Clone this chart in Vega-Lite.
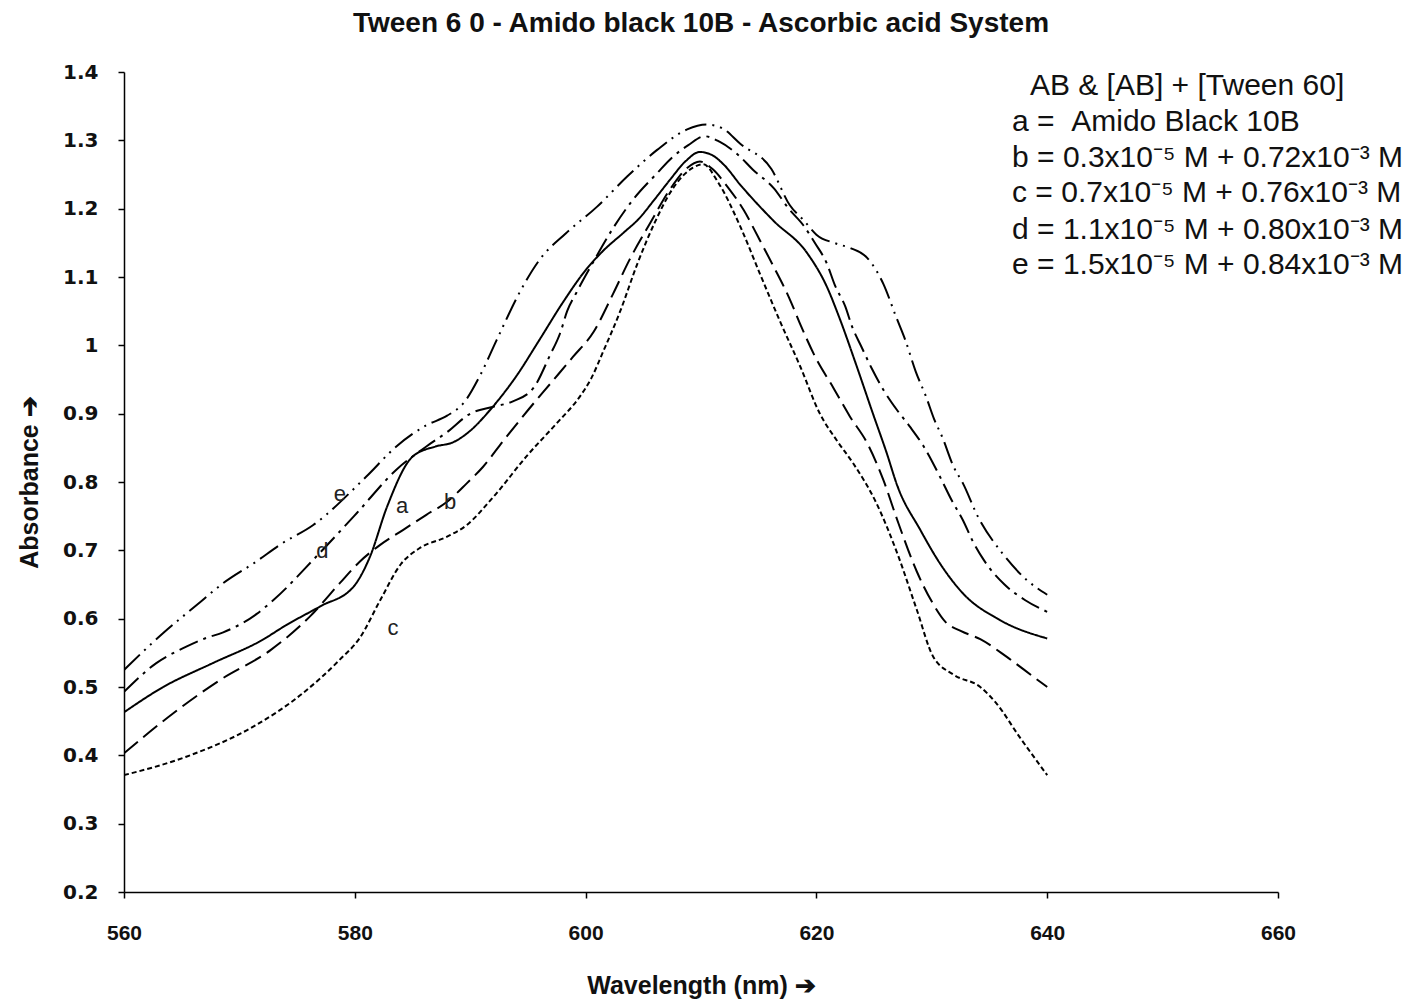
{
  "$schema": "https://vega.github.io/schema/vega-lite/v6.json",
  "autosize": "none",
  "width": 1154,
  "height": 820,
  "padding": {"left": 124, "top": 72, "right": 136, "bottom": 113},
  "background": "white",
  "title": {
    "text": "Tween 6 0 - Amido black 10B - Ascorbic acid System",
    "font": "Liberation Sans",
    "fontSize": 28,
    "fontWeight": "bold",
    "color": "#111",
    "anchor": "middle",
    "offset": 24
  },
  "config": {
    "view": {"stroke": null},
    "axis": {"grid": false, "domainColor": "#000", "tickColor": "#000", "domainWidth": 1.5, "tickWidth": 1.5, "labelColor": "#111", "titleColor": "#111"}
  },
  "datasets": {
    "curves": [
      {"s":"a","x":560,"y":0.463},{"s":"a","x":563.4,"y":0.5},{"s":"a","x":567.7,"y":0.535},{"s":"a","x":572,"y":0.569},{"s":"a","x":574,"y":0.59},{"s":"a","x":577,"y":0.618},{"s":"a","x":579.9,"y":0.647},{"s":"a","x":581.3,"y":0.69},{"s":"a","x":582.8,"y":0.764},{"s":"a","x":585,"y":0.837},{"s":"a","x":587,"y":0.852},{"s":"a","x":588.5,"y":0.858},{"s":"a","x":590,"y":0.875},{"s":"a","x":591.7,"y":0.905},{"s":"a","x":594,"y":0.955},{"s":"a","x":596,"y":1.008},{"s":"a","x":598,"y":1.062},{"s":"a","x":600,"y":1.11},{"s":"a","x":601.5,"y":1.138},{"s":"a","x":603.3,"y":1.165},{"s":"a","x":604.6,"y":1.185},{"s":"a","x":606,"y":1.214},{"s":"a","x":607.3,"y":1.242},{"s":"a","x":608.7,"y":1.27},{"s":"a","x":609.9,"y":1.283},{"s":"a","x":611,"y":1.278},{"s":"a","x":612,"y":1.264},{"s":"a","x":613.4,"y":1.235},{"s":"a","x":615.1,"y":1.203},{"s":"a","x":616.3,"y":1.182},{"s":"a","x":619.2,"y":1.135},{"s":"a","x":620.9,"y":1.086},{"s":"a","x":622,"y":1.04},{"s":"a","x":623.5,"y":0.969},{"s":"a","x":624.9,"y":0.9},{"s":"a","x":626.1,"y":0.842},{"s":"a","x":627,"y":0.795},{"s":"a","x":629,"y":0.73},{"s":"a","x":630.7,"y":0.681},{"s":"a","x":632.7,"y":0.637},{"s":"a","x":635.9,"y":0.598},{"s":"a","x":640,"y":0.571},
      {"s":"b","x":560,"y":0.403},{"s":"b","x":564.3,"y":0.462},{"s":"b","x":568.3,"y":0.51},{"s":"b","x":572.7,"y":0.554},{"s":"b","x":576.1,"y":0.603},{"s":"b","x":578.7,"y":0.652},{"s":"b","x":580.4,"y":0.683},{"s":"b","x":582.2,"y":0.708},{"s":"b","x":584.2,"y":0.73},{"s":"b","x":586.2,"y":0.752},{"s":"b","x":588,"y":0.771},{"s":"b","x":589.7,"y":0.798},{"s":"b","x":591.1,"y":0.822},{"s":"b","x":592.9,"y":0.861},{"s":"b","x":595,"y":0.905},{"s":"b","x":597,"y":0.945},{"s":"b","x":598.9,"y":0.983},{"s":"b","x":600.7,"y":1.02},{"s":"b","x":602.4,"y":1.076},{"s":"b","x":603.8,"y":1.125},{"s":"b","x":605.6,"y":1.179},{"s":"b","x":607.3,"y":1.228},{"s":"b","x":608.7,"y":1.258},{"s":"b","x":609.9,"y":1.269},{"s":"b","x":611,"y":1.258},{"s":"b","x":612.3,"y":1.232},{"s":"b","x":613.7,"y":1.198},{"s":"b","x":615,"y":1.157},{"s":"b","x":616.3,"y":1.115},{"s":"b","x":617.6,"y":1.071},{"s":"b","x":618.7,"y":1.027},{"s":"b","x":619.9,"y":0.983},{"s":"b","x":621.5,"y":0.937},{"s":"b","x":622.9,"y":0.896},{"s":"b","x":624.4,"y":0.857},{"s":"b","x":625.8,"y":0.803},{"s":"b","x":627.1,"y":0.74},{"s":"b","x":628.7,"y":0.669},{"s":"b","x":630,"y":0.625},{"s":"b","x":631.2,"y":0.595},{"s":"b","x":632.5,"y":0.582},{"s":"b","x":634.2,"y":0.57},{"s":"b","x":636.5,"y":0.544},{"s":"b","x":638.8,"y":0.515},{"s":"b","x":640,"y":0.5},
      {"s":"c","x":560,"y":0.371},{"s":"c","x":565.4,"y":0.398},{"s":"c","x":571.2,"y":0.442},{"s":"c","x":575.5,"y":0.491},{"s":"c","x":578.7,"y":0.54},{"s":"c","x":580.4,"y":0.571},{"s":"c","x":582.2,"y":0.627},{"s":"c","x":584,"y":0.68},{"s":"c","x":585.6,"y":0.703},{"s":"c","x":588,"y":0.72},{"s":"c","x":589.7,"y":0.737},{"s":"c","x":592,"y":0.778},{"s":"c","x":595,"y":0.84},{"s":"c","x":597.5,"y":0.886},{"s":"c","x":599.5,"y":0.925},{"s":"c","x":600.5,"y":0.952},{"s":"c","x":601.5,"y":0.99},{"s":"c","x":603,"y":1.05},{"s":"c","x":604.5,"y":1.12},{"s":"c","x":606,"y":1.18},{"s":"c","x":607.5,"y":1.228},{"s":"c","x":609.3,"y":1.26},{"s":"c","x":610.2,"y":1.265},{"s":"c","x":611.5,"y":1.238},{"s":"c","x":613.4,"y":1.174},{"s":"c","x":615.1,"y":1.105},{"s":"c","x":616.8,"y":1.037},{"s":"c","x":618.6,"y":0.969},{"s":"c","x":620.3,"y":0.9},{"s":"c","x":621.8,"y":0.86},{"s":"c","x":623.2,"y":0.827},{"s":"c","x":625.2,"y":0.769},{"s":"c","x":627,"y":0.696},{"s":"c","x":628.7,"y":0.613},{"s":"c","x":630.1,"y":0.545},{"s":"c","x":631.9,"y":0.518},{"s":"c","x":634.2,"y":0.5},{"s":"c","x":635.6,"y":0.476},{"s":"c","x":637.6,"y":0.427},{"s":"c","x":640,"y":0.371},
      {"s":"d","x":560,"y":0.493},{"s":"d","x":562.8,"y":0.535},{"s":"d","x":565.4,"y":0.559},{"s":"d","x":567,"y":0.571},{"s":"d","x":568.6,"y":0.58},{"s":"d","x":571.5,"y":0.607},{"s":"d","x":573,"y":0.628},{"s":"d","x":576.5,"y":0.688},{"s":"d","x":580.2,"y":0.755},{"s":"d","x":583.6,"y":0.818},{"s":"d","x":586.2,"y":0.852},{"s":"d","x":588,"y":0.873},{"s":"d","x":590,"y":0.9},{"s":"d","x":592,"y":0.91},{"s":"d","x":593.7,"y":0.918},{"s":"d","x":595.5,"y":0.938},{"s":"d","x":596.9,"y":0.985},{"s":"d","x":597.8,"y":1.018},{"s":"d","x":598.4,"y":1.05},{"s":"d","x":599.2,"y":1.077},{"s":"d","x":600.6,"y":1.12},{"s":"d","x":602.4,"y":1.172},{"s":"d","x":604.1,"y":1.213},{"s":"d","x":606.2,"y":1.252},{"s":"d","x":607.5,"y":1.275},{"s":"d","x":608.9,"y":1.293},{"s":"d","x":610.3,"y":1.306},{"s":"d","x":611.6,"y":1.298},{"s":"d","x":613.2,"y":1.279},{"s":"d","x":614.5,"y":1.257},{"s":"d","x":616.3,"y":1.23},{"s":"d","x":617.6,"y":1.2},{"s":"d","x":618.9,"y":1.175},{"s":"d","x":619.9,"y":1.149},{"s":"d","x":620.9,"y":1.12},{"s":"d","x":621.6,"y":1.088},{"s":"d","x":622.5,"y":1.057},{"s":"d","x":623.1,"y":1.027},{"s":"d","x":623.9,"y":0.998},{"s":"d","x":624.8,"y":0.966},{"s":"d","x":625.8,"y":0.935},{"s":"d","x":627,"y":0.905},{"s":"d","x":628.1,"y":0.881},{"s":"d","x":629.3,"y":0.852},{"s":"d","x":630.7,"y":0.808},{"s":"d","x":631.7,"y":0.774},{"s":"d","x":632.7,"y":0.744},{"s":"d","x":633.5,"y":0.715},{"s":"d","x":634.5,"y":0.686},{"s":"d","x":636.3,"y":0.65},{"s":"d","x":638.1,"y":0.627},{"s":"d","x":640,"y":0.61},
      {"s":"e","x":560,"y":0.525},{"s":"e","x":563.4,"y":0.579},{"s":"e","x":566.3,"y":0.62},{"s":"e","x":568.6,"y":0.652},{"s":"e","x":571.5,"y":0.684},{"s":"e","x":573.5,"y":0.708},{"s":"e","x":576.4,"y":0.737},{"s":"e","x":581,"y":0.808},{"s":"e","x":583.6,"y":0.852},{"s":"e","x":586.2,"y":0.883},{"s":"e","x":588,"y":0.897},{"s":"e","x":589.5,"y":0.917},{"s":"e","x":590.8,"y":0.954},{"s":"e","x":592.3,"y":1.008},{"s":"e","x":594.3,"y":1.078},{"s":"e","x":596,"y":1.125},{"s":"e","x":598.3,"y":1.164},{"s":"e","x":601,"y":1.203},{"s":"e","x":603.6,"y":1.247},{"s":"e","x":606.2,"y":1.286},{"s":"e","x":608.8,"y":1.316},{"s":"e","x":610.5,"y":1.323},{"s":"e","x":611.8,"y":1.318},{"s":"e","x":613.4,"y":1.295},{"s":"e","x":616.1,"y":1.258},{"s":"e","x":617.7,"y":1.205},{"s":"e","x":618.9,"y":1.183},{"s":"e","x":620,"y":1.162},{"s":"e","x":621.7,"y":1.149},{"s":"e","x":623,"y":1.142},{"s":"e","x":624.4,"y":1.128},{"s":"e","x":625.8,"y":1.09},{"s":"e","x":626.9,"y":1.042},{"s":"e","x":627.7,"y":1.008},{"s":"e","x":628.6,"y":0.962},{"s":"e","x":629.5,"y":0.925},{"s":"e","x":630.2,"y":0.892},{"s":"e","x":630.9,"y":0.866},{"s":"e","x":631.9,"y":0.822},{"s":"e","x":632.7,"y":0.798},{"s":"e","x":634,"y":0.749},{"s":"e","x":636.1,"y":0.696},{"s":"e","x":638.2,"y":0.657},{"s":"e","x":640,"y":0.635}
    ],
    "curveLabels": [
      {"t":"e","x":578.7,"y":0.782},
      {"t":"d","x":577.2,"y":0.699},
      {"t":"a","x":584.1,"y":0.765},
      {"t":"b","x":588.25,"y":0.771},
      {"t":"c","x":583.3,"y":0.586}
    ],
    "legendLines": [
      {"t":"AB & [AB] + [Tween 60]","x":638.5,"y":1.38},
      {"t":"a = \u00a0Amido Black 10B","x":636.95,"y":1.327},
      {"t":"b = 0.3x10⁻⁵ M + 0.72x10⁻³ M","x":636.95,"y":1.274},
      {"t":"c = 0.7x10⁻⁵ M + 0.76x10⁻³ M","x":636.95,"y":1.223},
      {"t":"d = 1.1x10⁻⁵ M + 0.80x10⁻³ M","x":636.95,"y":1.169},
      {"t":"e = 1.5x10⁻⁵ M + 0.84x10⁻³ M","x":636.95,"y":1.118}
    ]
  },
  "layer": [
    {
      "data": {"name": "curves"},
      "mark": {"type": "line", "interpolate": "monotone", "strokeWidth": 2, "color": "#000", "clip": true},
      "encoding": {
        "x": {
          "field": "x", "type": "quantitative",
          "scale": {"domain": [560, 660], "nice": false, "zero": false},
          "axis": {
            "values": [560, 580, 600, 620, 640, 660],
            "title": "Wavelength (nm) ➔",
            "titleFont": "Liberation Sans", "titleFontSize": 25, "titleFontWeight": "bold", "titlePadding": 30,
            "labelFont": "Liberation Sans", "labelFontSize": 21, "labelFontWeight": "bold", "labelPadding": 24,
            "tickSize": 6, "labelFlush": false
          }
        },
        "y": {
          "field": "y", "type": "quantitative",
          "scale": {"domain": [0.2, 1.4], "nice": false, "zero": false},
          "axis": {
            "values": [0.2, 0.3, 0.4, 0.5, 0.6, 0.7, 0.8, 0.9, 1.0, 1.1, 1.2, 1.3, 1.4],
            "format": ".2~f",
            "title": "Absorbance ➔",
            "titleFont": "Liberation Sans", "titleFontSize": 25, "titleFontWeight": "bold", "titlePadding": 20,
            "labelFont": "DejaVu Sans", "labelFontSize": 20, "labelFontWeight": "bold", "labelPadding": 20,
            "tickSize": 6, "labelFlush": false
          }
        },
        "detail": {"field": "s"},
        "strokeDash": {
          "field": "s", "type": "nominal", "legend": null,
          "scale": {"domain": ["a", "b", "c", "d", "e"], "range": [[1, 0], [18, 7], [5, 3], [20, 6, 3, 6], [22, 6, 2, 6, 2, 6]]}
        }
      }
    },
    {
      "data": {"name": "curveLabels"},
      "mark": {"type": "text", "font": "Liberation Sans", "fontSize": 22, "color": "#222", "align": "center", "baseline": "middle"},
      "encoding": {
        "x": {"field": "x", "type": "quantitative"},
        "y": {"field": "y", "type": "quantitative"},
        "text": {"field": "t"}
      }
    },
    {
      "data": {"name": "legendLines"},
      "mark": {"type": "text", "font": "Liberation Sans", "fontSize": 30, "color": "#111", "align": "left", "baseline": "middle"},
      "encoding": {
        "x": {"field": "x", "type": "quantitative"},
        "y": {"field": "y", "type": "quantitative"},
        "text": {"field": "t"}
      }
    }
  ]
}
